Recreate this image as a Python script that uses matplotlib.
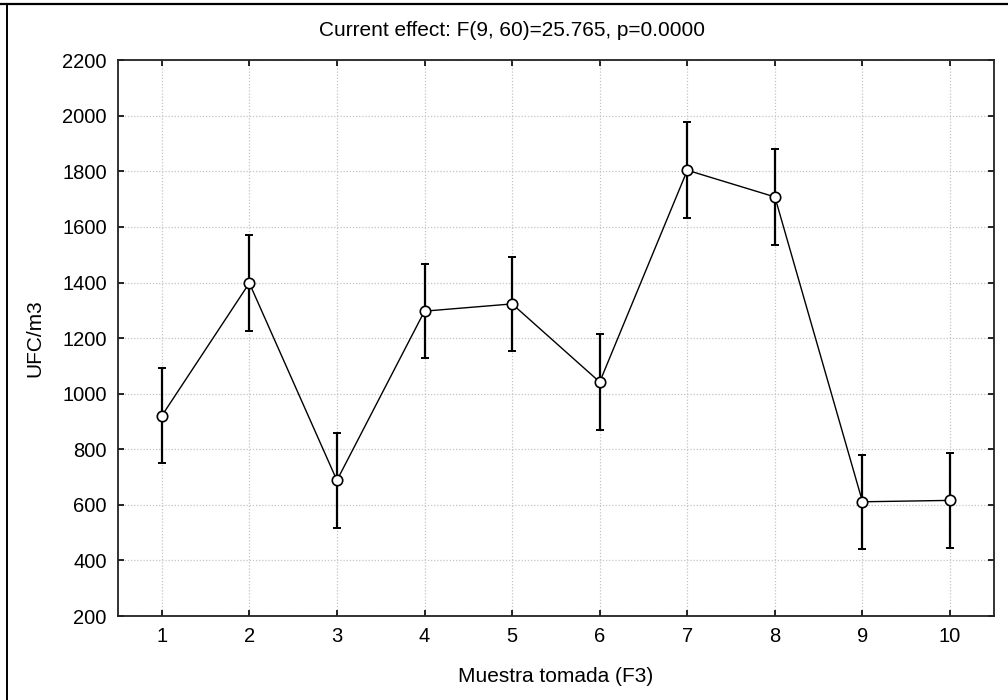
import numpy as np
import matplotlib.pyplot as plt
from matplotlib.lines import Line2D

plt.rcParams['font.family'] = ['Liberation Sans', 'DejaVu Sans']

muestras = [1, 2, 3, 4, 5, 6, 7, 8, 9, 10]
ufc = [920, 1398, 688, 1297, 1323, 1042, 1804, 1708, 611, 616]
ufc_err = [171, 172, 172, 170, 170, 172, 172, 172, 170, 170]
yticks = [200, 400, 600, 800, 1000, 1200, 1400, 1600, 1800, 2000, 2200]

fig = plt.figure(figsize=(10.08, 7.00), dpi=100)
ax = fig.add_axes([0.117, 0.12, 0.869, 0.794])

ax.errorbar(muestras, ufc, yerr=ufc_err, fmt='none', ecolor='black',
            elinewidth=1.6, capsize=3.2, capthick=1.4, zorder=2)
ax.plot(muestras, ufc, color='black', lw=1.0, marker='o', ms=7.5,
        mfc='white', mec='black', mew=1.2, zorder=3)

ax.set_xlim(0.5, 10.5)
ax.set_ylim(200, 2200)
ax.set_xticks(muestras)
ax.set_yticks(yticks)
ax.grid(True, color='#c4c4c4', linestyle=(0, (1, 1.5)), lw=0.9)
ax.tick_params(direction='in', length=4, width=1.2, top=True, right=True,
               labelsize=14.5, pad=8)
for s in ax.spines.values():
    s.set_linewidth(1.3)
    s.set_color('#222222')

ax.set_xlabel('Muestra tomada (F3)', fontsize=15, va='center')
ax.xaxis.set_label_coords(0.5, -0.108)
ax.set_ylabel('UFC/m3', fontsize=15, va='center')
ax.yaxis.set_label_coords(-0.095, 0.5)
fig.text(0.508, 1 - 30 / 700, 'Current effect: F(9, 60)=25.765, p=0.0000',
         fontsize=15, ha='center', va='center')

# outer frame of the original screenshot
fig.add_artist(Line2D([0, 1], [0.995, 0.995], color='black', lw=1.6))
fig.add_artist(Line2D([0.007, 0.007], [0, 0.995], color='black', lw=1.4))

fig.savefig('out.png', dpi=100)
